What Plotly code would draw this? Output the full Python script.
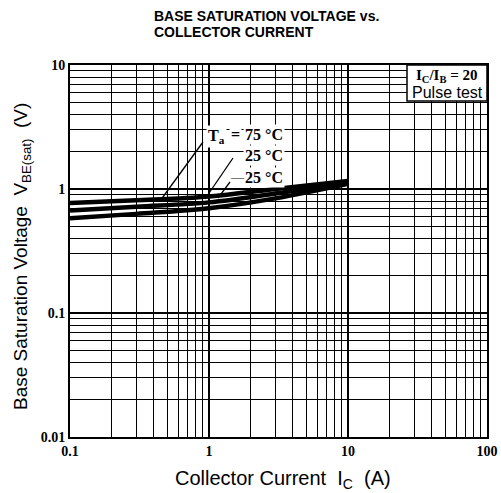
import plotly.graph_objects as go

# ---- data ----
ic_a = [0.1, 0.3, 1, 3, 10]
vbe_m25 = [0.77, 0.81, 0.87, 1.00, 1.16]
vbe_25 = [0.67, 0.72, 0.78, 0.92, 1.13]
vbe_75 = [0.58, 0.63, 0.70, 0.84, 1.10]
series_names = ["-25 °C", "25 °C", "75 °C"]

x_tick_vals = [0.1, 1, 10, 100]
x_tick_text = ["0.1", "1", "10", "100"]
y_tick_vals = [0.01, 0.1, 1, 10]
y_tick_text = ["0.01", "0.1", "1", "10"]

W, H = 501, 493
L, R, T, B = 70, 487, 65, 437  # plot area box in pixels


def px(x):
    return (x - L) / (R - L)


def py(y):
    return (B - y) / (B - T)


fig = go.Figure()
for name, vals in zip(series_names, [vbe_m25, vbe_25, vbe_75]):
    fig.add_trace(go.Scatter(x=ic_a, y=vals, mode="lines", name=name,
                             line=dict(color="black", width=4.5, shape="spline"),
                             showlegend=False, hoverinfo="skip"))

serif = "Liberation Serif, DejaVu Serif, serif"
sans = "Liberation Sans, Arial, sans-serif"

axis_common = dict(
    type="log", showline=True, linecolor="black", linewidth=2, mirror=True,
    showgrid=True, gridcolor="black", gridwidth=2, zeroline=False, automargin=False,
    ticks="", tickfont=dict(family=serif, size=14, color="black", weight="bold"),
    minor=dict(showgrid=True, gridcolor="black", gridwidth=1, dtick="D1", ticks=""),
)

fig.update_xaxes(**axis_common, range=[-1, 2], tickvals=x_tick_vals, ticktext=x_tick_text)
fig.update_yaxes(**axis_common, range=[-2, 1], tickvals=y_tick_vals, ticktext=y_tick_text)

title_font = dict(family="Liberation Sans Narrow, Liberation Sans, sans-serif", size=14,
                  color="black", weight="bold")
label_font = dict(family=serif, size=16, color="black", weight="bold")
annotations = [
    dict(text="BASE SATURATION VOLTAGE vs.", x=px(152), y=py(16), xanchor="left", yanchor="middle",
         font=title_font),
    dict(text="COLLECTOR CURRENT", x=px(152), y=py(32), xanchor="left", yanchor="middle",
         font=title_font),
    dict(text="Collector Current  I<sub>C</sub>  (A)", x=px(283), y=py(480),
         xanchor="center", yanchor="middle", font=dict(family=sans, size=20, color="black")),
    dict(text="Base Saturation Voltage  V<sub>BE(sat)</sub>  (V)", x=px(22), y=py(257),
         xanchor="center", yanchor="middle", textangle=-90,
         font=dict(family=sans, size=19, color="black")),
    dict(text="T<sub>a</sub>", x=px(206), y=py(136), xanchor="left", yanchor="middle",
         bgcolor="white", font=label_font),
    dict(text="75 °C", x=px(285), y=py(134), xanchor="right", yanchor="middle",
         bgcolor="white", font=label_font),
    dict(text="25 °C", x=px(285), y=py(155), xanchor="right", yanchor="middle",
         bgcolor="white", font=label_font),
    dict(text="25 °C", x=px(285), y=py(177), xanchor="right", yanchor="middle",
         bgcolor="white", font=label_font),
    dict(text="=", x=px(235), y=py(134), xanchor="center", yanchor="middle",
         bgcolor="white", font=label_font),
    dict(text="—", x=px(237), y=py(176), xanchor="center", yanchor="middle",
         font=dict(family=serif, size=13, color="black")),
    dict(text="I<sub>C</sub>/I<sub>B</sub> = 20", x=px(447), y=py(76), xanchor="center", yanchor="middle",
         font=dict(family=serif, size=15, color="black", weight="bold")),
    dict(text="Pulse test", x=px(447), y=py(92), xanchor="center", yanchor="middle",
         font=dict(family=sans, size=16, color="black")),
]
for a in annotations:
    a.update(xref="paper", yref="paper", showarrow=False)

shapes = [
    dict(type="rect", x0=px(407), x1=px(487), y0=py(101), y1=py(65),
         fillcolor="white", line=dict(color="black", width=1.5), layer="above"),
    dict(type="line", x0=px(203), y0=py(142), x1=px(160), y1=py(201),
         line=dict(color="black", width=1.3)),
    dict(type="line", x0=px(233), y0=py(158), x1=px(205), y1=py(199),
         line=dict(color="black", width=1.3)),
    dict(type="line", x0=px(230), y0=py(182), x1=px(218), y1=py(198),
         line=dict(color="black", width=1.3)),
]
for s in shapes:
    s.update(xref="paper", yref="paper")

fig.update_layout(
    width=W, height=H,
    margin=dict(l=L, r=W - R, t=T, b=H - B, autoexpand=False),
    paper_bgcolor="white", plot_bgcolor="white",
    annotations=annotations, shapes=shapes,
)

fig.write_html("out.html", config={"displayModeBar": False},
               post_script="document.body.style.margin='0';")
